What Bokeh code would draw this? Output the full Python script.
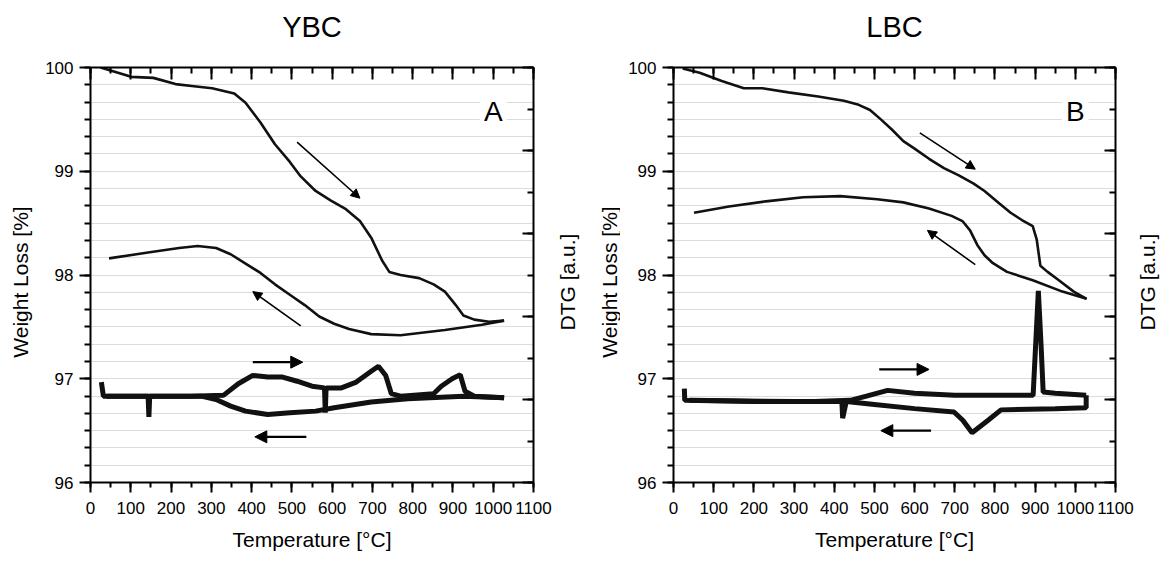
import math
from bokeh.plotting import figure
from bokeh.models import (Range1d, LinearAxis, SingleIntervalTicker, Arrow, NormalHead, Label,
                          CustomJSTickFormatter)
from bokeh.layouts import row
from bokeh.embed import file_html
from bokeh.resources import INLINE

FONT = "Liberation Sans"
H = 561

# ---------------- YBC (panel A) ----------------
ybc_heat_T = [25, 60, 101, 156, 211, 257, 302, 357, 385, 422, 458, 495, 522, 559, 596, 632, 669,
              697, 724, 742, 770, 816, 852, 880, 907, 926, 953, 990, 1027]
ybc_heat_W = [100.0, 99.96, 99.91, 99.90, 99.84, 99.82, 99.80, 99.75, 99.66, 99.47, 99.26, 99.09,
              98.95, 98.81, 98.72, 98.64, 98.52, 98.36, 98.14, 98.03, 98.00, 97.97, 97.91, 97.84,
              97.71, 97.61, 97.57, 97.55, 97.56]
ybc_cool_T = [1027, 972, 880, 770, 697, 642, 605, 568, 532, 495, 458, 422, 385, 348, 312, 266,
              220, 147, 46]
ybc_cool_W = [97.56, 97.52, 97.47, 97.42, 97.43, 97.48, 97.53, 97.60, 97.71, 97.81, 97.91, 98.02,
              98.11, 98.20, 98.26, 98.28, 98.26, 98.22, 98.16]
ybc_dtg_heat_T = [27, 32, 100, 143, 145, 147, 250, 330, 367, 403, 440, 477, 513, 550, 581, 583, 585,
                  623, 660, 697, 715, 733, 747, 770, 852, 871, 898, 918, 930, 953, 1027]
ybc_dtg_heat = [1.21, 1.04, 1.04, 1.04, 0.79, 1.04, 1.04, 1.05, 1.19, 1.29, 1.27, 1.27, 1.22, 1.16,
                1.14, 0.84, 1.14, 1.14, 1.21, 1.34, 1.40, 1.29, 1.07, 1.04, 1.07, 1.16, 1.25, 1.30,
                1.10, 1.04, 1.02]
ybc_dtg_cool_T = [1027, 926, 788, 697, 605, 559, 495, 440, 385, 348, 312, 275, 150, 40]
ybc_dtg_cool = [1.02, 1.04, 1.01, 0.97, 0.90, 0.86, 0.84, 0.82, 0.86, 0.92, 1.00, 1.04, 1.04, 1.04]
# arrows: (x_start, y_start, x_end, y_end, kind)
ybc_arrows = [(513, 99.28, 669, 98.74, "thin"), (522, 97.51, 403, 97.84, "thin"),
              (403, 97.16, 527, 97.16, "bold"), (536, 96.44, 408, 96.44, "bold")]

# ---------------- LBC (panel B) ----------------
lbc_heat_T = [23, 65, 120, 175, 221, 286, 360, 424, 461, 489, 516, 544, 572, 599, 636, 673, 710,
              747, 774, 811, 839, 867, 894, 904, 913, 931, 959, 996, 1028]
lbc_heat_W = [99.99, 99.95, 99.87, 99.80, 99.80, 99.76, 99.72, 99.68, 99.64, 99.59, 99.50, 99.40,
              99.29, 99.22, 99.12, 99.03, 98.96, 98.88, 98.81, 98.69, 98.60, 98.53, 98.47, 98.34,
              98.09, 98.03, 97.95, 97.84, 97.77]
lbc_cool_T = [1028, 968, 894, 830, 793, 774, 756, 738, 719, 692, 636, 572, 507, 415, 323, 230,
              138, 51]
lbc_cool_W = [97.77, 97.84, 97.95, 98.03, 98.12, 98.19, 98.29, 98.43, 98.52, 98.57, 98.64, 98.70,
              98.73, 98.76, 98.75, 98.71, 98.66, 98.60]
lbc_dtg_heat_T = [27, 28, 200, 350, 440, 480, 533, 600, 700, 895, 901, 908, 915, 920, 950, 1027]
lbc_dtg_heat = [1.13, 0.99, 0.975, 0.975, 0.99, 1.04, 1.11, 1.075, 1.05, 1.05, 1.63, 2.31, 1.63,
                1.09, 1.075, 1.05]
lbc_dtg_cool_T = [1027, 1027, 950, 815, 783, 743, 720, 698, 600, 500, 430, 421, 419, 300, 40]
lbc_dtg_cool = [1.05, 0.90, 0.89, 0.875, 0.75, 0.60, 0.75, 0.85, 0.89, 0.94, 0.975, 0.775, 0.975,
                0.975, 0.99]
lbc_arrows = [(613, 99.37, 751, 99.02, "thin"), (751, 98.10, 632, 98.43, "thin"),
              (512, 97.09, 636, 97.09, "bold"), (641, 96.50, 516, 96.50, "bold")]

x_label = "Temperature [°C]"
y_label = "Weight Loss [%]"
y2_label = "DTG [a.u.]"

BLANK = CustomJSTickFormatter(code="return ''")


def make_panel(title, letter, hT, hW, cT, cW, dhT, dh, dcT, dc, arrows, width, bl, br):
    p = figure(width=width, height=H, x_range=Range1d(0, 1100), y_range=Range1d(96, 100),
               output_backend="svg", toolbar_location=None,
               min_border_left=bl, min_border_right=br, min_border_top=67, min_border_bottom=79)
    p.extra_y_ranges = {"dtg": Range1d(0, 5)}
    p.outline_line_color = None
    p.background_fill_color = "white"
    p.border_fill_color = "white"

    p.title.text = title
    p.title.align = "center"
    p.title.text_font = FONT
    p.title.text_font_size = "29px"
    p.title.text_font_style = "normal"
    p.title.text_color = "black"
    p.title.standoff = 2

    p.xgrid.grid_line_color = None
    p.ygrid.grid_line_color = "#dcdcdc"
    p.ygrid.minor_grid_line_color = "#dcdcdc"

    xa = p.xaxis[0]
    xa.ticker = SingleIntervalTicker(interval=100, num_minor_ticks=2)
    xa.axis_label = x_label
    xa.major_tick_out = 10
    xa.major_tick_in = 0
    xa.minor_tick_out = 5
    xa.minor_tick_in = 0
    xa.major_label_standoff = 9
    xa.axis_label_standoff = 11

    ya = p.yaxis[0]
    ya.ticker = SingleIntervalTicker(interval=1, num_minor_ticks=6)
    ya.major_tick_out = 11
    ya.major_tick_in = 0
    ya.minor_tick_out = 6
    ya.minor_tick_in = 0
    ya.major_label_standoff = 6

    top = LinearAxis(ticker=SingleIntervalTicker(interval=100, num_minor_ticks=2),
                     formatter=BLANK, major_tick_in=12, major_tick_out=0,
                     minor_tick_in=6, minor_tick_out=0, major_label_standoff=0)
    p.add_layout(top, "above")
    right = LinearAxis(y_range_name="dtg", ticker=SingleIntervalTicker(interval=1, num_minor_ticks=2),
                       formatter=BLANK, major_tick_in=11, major_tick_out=0, minor_tick_in=6,
                       minor_tick_out=0, major_label_standoff=0)
    p.add_layout(right, "right")

    for ax in [xa, ya, top, right]:
        ax.axis_line_width = 2
        ax.axis_line_color = "black"
        ax.major_tick_line_width = 2
        ax.minor_tick_line_width = 2
        ax.major_tick_line_color = "black"
        ax.minor_tick_line_color = "black"
        ax.major_label_text_font = FONT
        ax.axis_label_text_font = FONT
        ax.axis_label_text_font_size = "21px"
        ax.axis_label_text_font_style = "normal"
        ax.axis_label_text_color = "black"
        ax.major_label_text_color = "black"
    for ax in [xa, ya]:
        ax.major_label_text_font_size = "17px"

    # invisible spacer axis that lifts the title away from the frame
    spacer = LinearAxis(ticker=SingleIntervalTicker(interval=100), formatter=BLANK,
                        major_tick_out=24, major_tick_in=0, minor_tick_out=0, minor_tick_in=0,
                        major_label_standoff=0, axis_line_alpha=0, major_tick_line_alpha=0,
                        minor_tick_line_alpha=0)
    p.add_layout(spacer, "above")

    p.line(dhT, dh, y_range_name="dtg", line_color="#111111", line_width=5)
    p.line(dcT, dc, y_range_name="dtg", line_color="#111111", line_width=5)
    p.line(hT, hW, line_color="#111111", line_width=2.6)
    p.line(cT, cW, line_color="#111111", line_width=2.6)

    for (x0, y0, x1, y1, kind) in arrows:
        if kind == "thin":
            head = NormalHead(size=9, fill_color="black", line_color="black", line_width=1)
            lw = 1.6
        else:
            head = NormalHead(size=12, fill_color="black", line_color="black", line_width=1)
            lw = 2.4
        p.add_layout(Arrow(end=head, x_start=x0, y_start=y0, x_end=x1, y_end=y1,
                           line_width=lw, line_color="black"))

    p.add_layout(Label(x=1000, y=99.58, text=letter, text_align="center", text_baseline="middle",
                       text_font=FONT, text_font_size="28px", text_color="black",
                       background_fill_color="white", padding=4))
    return p


def label_strip(width, items):
    """Narrow strip holding vertical axis titles (reading bottom to top)."""
    s = figure(width=width, height=H, x_range=Range1d(0, width), y_range=Range1d(0, H),
               output_backend="svg", toolbar_location=None, x_axis_location=None,
               y_axis_location=None, min_border_left=0, min_border_right=0, min_border_top=0,
               min_border_bottom=0)
    s.outline_line_color = None
    s.grid.visible = False
    s.background_fill_color = "white"
    s.border_fill_color = "white"
    for (x, y, txt) in items:
        s.add_layout(Label(x=x, y=H - y, text=txt, angle=math.pi / 2, text_align="center",
                           text_baseline="middle", text_font=FONT, text_font_size="21px",
                           text_color="black"))
    return s


labL = label_strip(35, [(20, 290, y_label)])
p1 = make_panel("YBC", "A", ybc_heat_T, ybc_heat_W, ybc_cool_T, ybc_cool_W,
                ybc_dtg_heat_T, ybc_dtg_heat, ybc_dtg_cool_T, ybc_dtg_cool, ybc_arrows, 518, 55, 20)
mid = label_strip(67, [(14, 290, y2_label), (56, 290, y_label)])
p2 = make_panel("LBC", "B", lbc_heat_T, lbc_heat_W, lbc_cool_T, lbc_cool_W,
                lbc_dtg_heat_T, lbc_dtg_heat, lbc_dtg_cool_T, lbc_dtg_cool, lbc_arrows, 515, 53, 20)
labR = label_strip(27, [(12, 290, y2_label)])

layout = row(labL, p1, mid, p2, labR)
open("out.html", "w").write(file_html(layout, INLINE))
